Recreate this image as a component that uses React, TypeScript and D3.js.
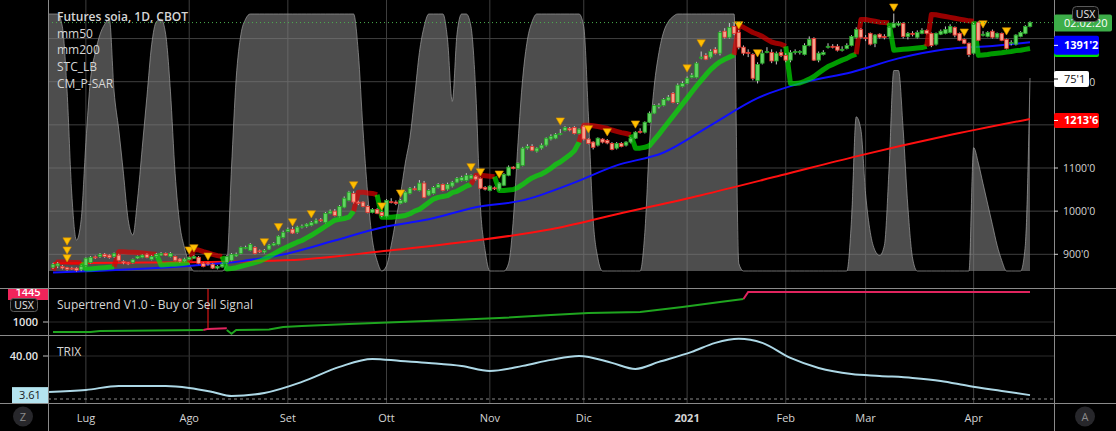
import React from "react";
import * as d3 from "d3";

// ---------------- data ----------------
const MONTH_IDX = [7, 29, 50, 71, 93, 113, 135, 156, 173, 196];
const MONTH_LABELS = ["Lug", "Ago", "Set", "Ott", "Nov", "Dic", "2021", "Feb", "Mar", "Apr"];
const PRICE_TICKS = [900, 1000, 1100, 1200, 1300, 1400];
// tick labels fully covered by the coloured price labels on the axis
const HIDDEN_TICK_LABELS = [1200, 1400];

const OPEN = [
  870,873,872,869,868,868,864,874,881,894, 895,900,898,895,898,883,880,881,891,893,
  900,888,895,898,902,895,895,889,884,888, 891,893,879,880,877,868,871,881,886,896,
  902,914,909,916,908,905,912,921,923,939, 953,958,951,963,965,967,972,980,974,995,
  1000,988,1009,1025,1041,1021,1021,1011,997,1004, 997,988,1022,1021,1018,1021,1041,1052,1048,1065,
  1037,1041,1055,1062,1051,1058,1067,1071,1071,1076, 1081,1076,1055,1048,1054,1051,1060,1083,1102,1099,
  1106,1146,1150,1139,1146,1153,1167,1169,1178,1187, 1192,1194,1180,1197,1167,1160,1153,1167,1164,1157,
  1146,1157,1153,1160,1169,1185,1183,1206,1227,1243, 1245,1257,1273,1252,1289,1296,1310,1310,1355,1361,
  1357,1375,1366,1417,1403,1428,1414,1380,1368,1363, 1303,1343,1368,1368,1348,1368,1361,1350,1368,1368,
  1363,1384,1400,1350,1363,1380,1382,1382,1375,1377, 1384,1403,1421,1402,1412,1389,1410,1405,1405,1426,
  1431,1435,1405,1412,1403,1412,1419,1412,1387,1410, 1412,1414,1426,1412,1398,1389,1366,1438,1408,1405,
  1417,1403,1412,1398,1391,1387,1405,1412,1428,
];
const HIGH = [
  880,882,875,871,871,870,874,893,896,897, 903,903,900,904,901,886,882,890,897,900,
  902,898,903,905,904,905,897,891,892,895, 898,896,881,882,879,875,879,898,903,904,
  918,920,926,919,911,912,924,928,944,955, 962,963,966,969,972,977,983,984,998,1004,
  1005,1014,1034,1047,1046,1024,1023,1014,1007,1007, 1000,1028,1030,1025,1028,1046,1056,1058,1072,1070,
  1051,1058,1065,1064,1066,1070,1079,1082,1088,1085, 1083,1078,1058,1060,1057,1067,1088,1106,1104,1113,
  1149,1155,1155,1148,1157,1171,1178,1181,1190,1197, 1195,1197,1192,1199,1169,1162,1171,1169,1167,1160,
  1160,1160,1162,1171,1185,1192,1208,1231,1248,1250, 1262,1269,1276,1296,1301,1312,1320,1346,1370,1366,
  1375,1380,1418,1424,1436,1438,1420,1384,1375,1366, 1345,1373,1380,1375,1370,1375,1366,1373,1375,1373,
  1389,1405,1403,1370,1373,1389,1387,1387,1382,1389, 1408,1426,1424,1408,1414,1410,1412,1410,1428,1458,
  1440,1438,1415,1417,1419,1424,1421,1414,1414,1421, 1428,1433,1428,1414,1400,1391,1436,1440,1417,1417,
  1421,1414,1414,1400,1396,1410,1417,1431,1440,
];
const LOW = [
  866,868,865,862,864,860,861,872,879,889, 892,892,890,892,884,877,875,879,889,891,
  891,886,893,896,896,893,884,881,882,886, 889,877,870,874,866,865,869,879,884,894,
  900,912,907,900,903,902,910,919,921,937, 951,947,948,960,962,965,970,975,972,993,
  988,986,1007,1023,1018,1014,1009,995,995,993, 986,986,1018,1014,1016,1019,1039,1048,1046,1030,
  1035,1039,1053,1046,1048,1055,1065,1069,1069,1074, 1071,1051,1048,1046,1049,1048,1058,1081,1097,1097,
  1104,1143,1139,1136,1143,1150,1164,1167,1176,1185, 1185,1178,1178,1164,1155,1143,1150,1157,1155,1141,
  1143,1148,1150,1157,1167,1180,1180,1204,1225,1238, 1243,1255,1250,1248,1287,1294,1308,1308,1352,1350,
  1354,1363,1361,1400,1400,1408,1375,1361,1357,1303, 1296,1340,1366,1343,1340,1357,1345,1345,1363,1363,
  1361,1382,1348,1345,1361,1377,1377,1370,1370,1375, 1382,1400,1400,1394,1384,1380,1400,1398,1403,1424,
  1428,1400,1398,1405,1400,1410,1410,1380,1384,1408, 1410,1412,1403,1394,1387,1357,1363,1394,1405,1403,
  1400,1400,1394,1375,1384,1384,1403,1410,1426,
];
const CLOSE = [
  876,878,868,865,867,863,872,891,893,892, 900,895,893,902,886,880,879,888,895,898,
  893,895,900,902,898,902,886,884,889,893, 895,879,872,878,868,872,877,895,900,900,
  916,916,923,902,906,909,921,925,942,951, 958,949,963,965,970,974,979,978,995,1000,
  990,1011,1030,1044,1021,1018,1011,997,1004,995, 990,1025,1021,1018,1025,1044,1053,1050,1065,1032,
  1048,1055,1062,1048,1062,1067,1076,1078,1083,1083, 1074,1053,1051,1058,1052,1065,1085,1102,1099,1111,
  1146,1150,1141,1146,1153,1169,1173,1178,1180,1194, 1188,1180,1190,1167,1157,1148,1169,1160,1158,1143,
  1157,1150,1160,1169,1183,1183,1206,1227,1245,1245, 1259,1264,1252,1292,1296,1308,1315,1343,1357,1352,
  1370,1366,1414,1403,1426,1412,1380,1366,1366,1308, 1340,1366,1370,1348,1366,1361,1350,1368,1370,1370,
  1384,1398,1350,1366,1368,1382,1380,1373,1375,1384, 1405,1421,1403,1400,1387,1408,1403,1403,1426,1435,
  1435,1405,1412,1410,1414,1419,1412,1384,1412,1417, 1421,1428,1408,1396,1389,1363,1433,1396,1410,1414,
  1403,1412,1396,1377,1391,1408,1414,1428,1437,
];

// trailing stop (CM_P-SAR style thick line) and indices where the trend flips
const TRAIL = [
  863,882,882,882,881,881,880,866,866,867, 868,869,870,871,906,906,905,905,904,903,
  902,901,900,875,876,877,877,878,879,881, 911,910,906,903,900,897,895,866,867,869,
  872,875,878,881,884,889,895,901,907,913, 918,923,928,932,938,944,951,958,965,972,
  979,981,983,986,1000,1044,1044,1042,1041,1038, 986,986,986,987,988,990,994,1000,1004,1012,
  1020,1028,1032,1034,1036,1043,1046,1052,1058,1062, 1083,1083,1082,1081,1080,1048,1048,1049,1050,1055,
  1062,1070,1077,1082,1086,1092,1099,1108,1114,1122, 1130,1140,1160,1199,1199,1198,1196,1194,1192,1188,
  1185,1182,1180,1177,1146,1146,1148,1152,1165,1178, 1192,1206,1220,1234,1248,1262,1276,1290,1303,1316,
  1328,1338,1346,1352,1357,1362,1431,1426,1420,1414, 1410,1405,1398,1392,1389,1387,1382,1296,1296,1297,
  1301,1306,1312,1320,1328,1335,1340,1345,1350,1354, 1360,1364,1444,1444,1442,1440,1438,1437,1436,1373,
  1374,1375,1376,1377,1378,1379,1382,1456,1455,1453, 1451,1449,1447,1445,1443,1441,1440,1361,1362,1363,
  1365,1366,1367,1369,1370,1372,1373,1375,1377,
];
const TRAIL_FLIP_IDX = [1, 7, 14, 23, 30, 37, 65, 70, 90, 95, 113, 124, 146, 157, 172, 179, 187, 197];

// STC_LB oscillator (0..100), first value belongs to bar -1
const STC_START = -1;
const STC = [
  100,
  100,100,95,70,30,12,20,50,75,85,
  92,96,98,70,55,38,20,14,28,48,
  68,88,97,98,92,70,38,18,9,3,
  0,0,0,0,0,0,0,3,40,75,
  92,98,100,100,100,100,100,100,100,100,
  100,100,100,100,100,100,100,100,100,100,
  100,100,100,100,100,85,55,30,12,4,
  0,2,10,20,30,42,52,68,85,95,
  100,100,100,100,90,66,92,100,100,95,
  70,25,8,0,0,0,0,3,20,50,
  75,90,97,100,100,100,100,100,100,100,
  100,100,100,95,60,20,5,0,0,0,
  0,0,0,0,0,0,15,50,72,85,
  93,97,99,100,100,100,100,100,100,100,
  100,100,100,100,100,100,3,0,0,0,
  0,0,0,0,0,0,0,0,0,0,
  0,0,0,0,0,0,0,0,0,0,
  20,60,55,30,15,8,6,10,40,78,
  78,55,25,5,0,0,0,0,0,0,
  0,0,0,0,0,0,48,42,34,26,
  18,10,4,0,0,0,0,10,75.1,
];

const MA50_IDX = [0, 10, 20, 30, 40, 50, 60, 70, 80, 90, 100, 110, 120, 130, 140, 150, 160, 170, 180, 190, 200, 208];
const MA50 = [858, 862, 867, 874, 884, 902, 932, 962, 981, 1009, 1025, 1062, 1106, 1136, 1199, 1262, 1299, 1322, 1354, 1375, 1383, 1391.2];
const MA200_IDX = [0, 20, 42, 53, 70, 87, 106, 120, 138, 155, 171, 190, 208];
const MA200 = [879, 881, 884, 888, 907, 928, 958, 993, 1037, 1083, 1127, 1174, 1213.6];

const MARK_IDX = [3, 3, 3, 29, 30, 33, 45, 48, 51, 55, 64, 70, 74, 89, 91, 95, 108, 114, 118, 124, 135, 138, 146, 150, 179, 194, 198, 203];
const MARK_PRICE = [930, 909, 891, 909, 914, 895, 928, 963, 974, 993, 1060, 1011, 1041, 1102, 1090, 1085, 1208, 1190, 1183, 1201, 1331, 1389, 1431, 1366, 1472, 1414, 1433, 1417];

// Supertrend pane
const ST_UP1_I = [0, 8, 10, 32];
const ST_UP1_V = [852, 852, 866, 881];
const ST_DN1_I = [32, 33, 37];
const ST_DN1_V = [881, 898, 906];
const ST_UP2_I = [37, 38, 39, 46, 49, 53, 63, 74, 85, 95, 106, 114, 125, 134, 142, 147];
const ST_UP2_V = [881, 826, 881, 890, 926, 941, 970, 1000, 1030, 1059, 1104, 1134, 1148, 1223, 1297, 1341];
const ST_DN2_I = [147, 148, 208];
const ST_DN2_V = [1341, 1445, 1445];
const ST_SIGNAL_IDX = [33];

// TRIX pane
const TRIX_IDX = [-1, 7, 14, 24, 29, 34, 38, 45, 53, 61, 68, 74, 80, 87, 93, 100, 106, 112, 119, 124, 129, 136, 141, 146, 151, 157, 163, 170, 176, 183, 189, 195, 202, 208];
const TRIX_VAL = [6.5, 8.4, 12.1, 12.1, 10.3, 6.5, 2.8, 5.6, 15.9, 29.9, 37.3, 35.4, 33.6, 30.8, 26.1, 30.8, 36.4, 40.1, 33.6, 28, 34.5, 43.8, 52.2, 56, 52.2, 38.2, 28.9, 23.3, 21.5, 19.6, 16.8, 12.1, 7.5, 3.61];

// ---------------- chart ----------------
const W = 1116, H = 431;
const L = 48, R = 1054;
const MAIN_B = 288, ST_B = 335, TR_B = 403;
const FONT = "'Open Sans', 'DejaVu Sans', sans-serif";

const fmtTick = (v: number) => `${Math.floor(v)}'${Math.round((v - Math.floor(v)) * 10)}`;

export default function App() {
  const N = CLOSE.length;
  const x = d3.scaleLinear().domain([0, N - 1]).range([53, 1030]);
  const y = d3.scaleLinear().domain([900, 1400]).range([254.3, 38.55]);
  const yStc = d3.scaleLinear().domain([0, 100]).range([271, 14]);
  const ySt = d3.scaleLinear().domain([1000, 1445]).range([322, 292]);
  const yTr = d3.scaleLinear().domain([0, 40]).range([399, 356]);

  const stcArea = d3.area<number>()
    .x((_, i) => x(i + STC_START)).y0(yStc(0)).y1((d) => yStc(d))
    .curve(d3.curveMonotoneX)(STC) || "";
  const stcLine = d3.line<number>()
    .x((_, i) => x(i + STC_START)).y((d) => yStc(d))
    .curve(d3.curveMonotoneX)(STC) || "";

  const idxLine = (idx: number[], vals: number[], ys: any, curve: any) =>
    d3.line<number>().x((_, k) => x(idx[k])).y((v) => ys(v)).curve(curve)(vals) || "";

  // trailing runs
  const flips = [0, ...TRAIL_FLIP_IDX, N];
  const runs: { dir: number; d: string }[] = [];
  for (let r = 0; r < flips.length - 1; r++) {
    const s = flips[r], e = flips[r + 1] - 1;
    const pts: [number, number][] = [];
    for (let i = Math.max(0, s - 1); i <= e; i++) pts.push([x(i), y(TRAIL[i])]);
    runs.push({ dir: r % 2 === 0 ? 1 : -1, d: d3.line()(pts) || "" });
  }

  const lastClose = CLOSE[N - 1];
  const lastMa50 = MA50[MA50.length - 1];
  const lastMa200 = MA200[MA200.length - 1];
  const lastStc = STC[STC.length - 1];
  const lastTrail = TRAIL[N - 1];
  const lastTrix = TRIX_VAL[TRIX_VAL.length - 1];

  const gridC = "#3f3f3f";
  const sepC = "#8a8a8a";
  const textC = "#d6d6d6";

  return (
    <div style={{ position: "fixed", left: 0, top: 0, width: W, height: H, background: "#000" }}>
      <svg width={W} height={H} style={{ display: "block", fontFamily: FONT }}>
        <defs>
          <clipPath id="mainClip"><rect x={L} y={0} width={R - L} height={MAIN_B} /></clipPath>
          <clipPath id="stClip"><rect x={0} y={MAIN_B} width={W} height={ST_B - MAIN_B} /></clipPath>
          <clipPath id="trClip"><rect x={L} y={ST_B} width={R - L} height={TR_B - ST_B} /></clipPath>
        </defs>
        <rect x={0} y={0} width={W} height={H} fill="#000" />

        {/* grid */}
        {MONTH_IDX.map((m, k) => (
          <line key={"vg" + k} x1={x(m)} x2={x(m)} y1={0} y2={TR_B} stroke={gridC} strokeWidth={1} />
        ))}
        {PRICE_TICKS.map((p) => (
          <line key={"hg" + p} x1={L} x2={R} y1={y(p)} y2={y(p)} stroke={gridC} strokeWidth={1} />
        ))}
        <line x1={L} x2={R} y1={ySt(1000)} y2={ySt(1000)} stroke="#2c2c2c" />
        <line x1={L} x2={R} y1={yTr(40)} y2={yTr(40)} stroke="#2c2c2c" />

        <g clipPath="url(#mainClip)">
          {/* STC area */}
          <path d={stcArea} fill="#808080" fillOpacity={0.6} />
          <path d={stcLine} fill="none" stroke="#a0a0a0" strokeOpacity={0.7} strokeWidth={1} />

          {/* moving averages */}
          <path d={idxLine(MA200_IDX, MA200, y, d3.curveMonotoneX)} fill="none" stroke="#ff1010" strokeWidth={2} />
          <path d={idxLine(MA50_IDX, MA50, y, d3.curveMonotoneX)} fill="none" stroke="#1010ff" strokeWidth={2} />

          {/* trailing line */}
          {runs.map((r, k) => (
            <path key={"run" + k} d={r.d} fill="none"
              stroke={r.dir > 0 ? "rgb(0,235,0)" : "rgb(225,0,0)"}
              strokeOpacity={r.dir > 0 ? 0.66 : 0.68} strokeWidth={5} strokeLinejoin="round" />
          ))}

          {/* candles */}
          {CLOSE.map((c, i) => {
            const o = OPEN[i];
            const up = c >= o;
            const top = y(Math.max(o, c));
            const bh = Math.max(1, Math.abs(y(o) - y(c)));
            return (
              <g key={"c" + i}>
                <line x1={x(i)} x2={x(i)} y1={y(HIGH[i])} y2={y(LOW[i])} stroke="#c8c8c8" strokeWidth={1} />
                <rect x={x(i) - 1.8} y={top} width={3.6} height={bh}
                  fill={up ? "#62d462" : "#f6a48d"} stroke={up ? "#23a023" : "#e3302a"} strokeWidth={0.8} />
              </g>
            );
          })}

          {/* signal triangles */}
          {MARK_IDX.map((m, k) => {
            const cx = x(m), cy = y(MARK_PRICE[k]);
            return (
              <path key={"mk" + k} d={`M${cx - 4.2},${cy - 3.5}L${cx + 4.2},${cy - 3.5}L${cx},${cy + 3.8}Z`}
                fill="#ffbf00" stroke="#d08a00" strokeWidth={0.6} />
            );
          })}

          {/* current price line */}
          <line x1={L} x2={R} y1={y(lastClose)} y2={y(lastClose)} stroke="#4caf50" strokeWidth={1} strokeDasharray="1 3" />
        </g>

        {/* supertrend pane */}
        <g clipPath="url(#stClip)">
          <path d={idxLine(ST_UP1_I, ST_UP1_V, ySt, d3.curveLinear)} fill="none" stroke="#1fa51f" strokeWidth={2} />
          <path d={idxLine(ST_UP2_I, ST_UP2_V, ySt, d3.curveLinear)} fill="none" stroke="#1fa51f" strokeWidth={2} />
          <path d={idxLine(ST_DN1_I, ST_DN1_V, ySt, d3.curveLinear)} fill="none" stroke="#e0245e" strokeWidth={2} />
          <path d={idxLine(ST_DN2_I, ST_DN2_V, ySt, d3.curveLinear)} fill="none" stroke="#e0245e" strokeWidth={2} />
          {ST_SIGNAL_IDX.map((s) => (
            <line key={"sig" + s} x1={x(s)} x2={x(s)} y1={MAIN_B} y2={ySt(ST_DN1_V[1])} stroke="#ff1a1a" strokeWidth={1} />
          ))}
          <rect x={8} y={ySt(1445) - 7} width={L - 8} height={15} fill="#f0245a" />
          <text x={28} y={ySt(1445) + 3.5} fontSize={11} fill="#fff" textAnchor="middle" fontWeight={600}>1445</text>
          <rect x={10.5} y={298.5} width={27} height={13} rx={3} fill="#0b0b0b" stroke="#5a5a5a" />
          <text x={24} y={309} fontSize={10.5} fill="#e8e8e8" textAnchor="middle">USX</text>
        </g>
        <text x={57} y={309} fontSize={12} fill={textC}>Supertrend V1.0 - Buy or Sell Signal</text>
        <text x={38} y={ySt(1000) + 4} fontSize={11} fill="#e6e6e6" textAnchor="end" fontWeight={600}>1000</text>
        <line x1={43} x2={L} y1={ySt(1000)} y2={ySt(1000)} stroke="#bbb" />

        {/* TRIX pane */}
        <g clipPath="url(#trClip)">
          <line x1={L} x2={R} y1={yTr(0)} y2={yTr(0)} stroke="#8a8a8a" strokeDasharray="3 3" />
          <path d={idxLine(TRIX_IDX, TRIX_VAL, yTr, d3.curveMonotoneX)} fill="none" stroke="#add8e6" strokeWidth={2} />
        </g>
        <text x={57} y={356} fontSize={12} fill={textC}>TRIX</text>
        <text x={38} y={yTr(40) + 4} fontSize={11} fill="#e6e6e6" textAnchor="end" fontWeight={600}>40.00</text>
        <line x1={43} x2={L} y1={yTr(40)} y2={yTr(40)} stroke="#bbb" />
        <rect x={12} y={yTr(lastTrix) - 8} width={L - 12} height={16} fill="#b4e4f0" />
        <text x={30} y={yTr(lastTrix) + 4} fontSize={11} fill="#1a1a1a" textAnchor="middle">{lastTrix.toFixed(2)}</text>

        {/* separators / axis lines */}
        {[MAIN_B, ST_B, TR_B].map((yy) => (
          <line key={"sep" + yy} x1={0} x2={W} y1={yy + 0.5} y2={yy + 0.5} stroke={sepC} strokeWidth={1} />
        ))}
        <line x1={L + 0.5} x2={L + 0.5} y1={0} y2={H} stroke={sepC} />
        <line x1={R + 0.5} x2={R + 0.5} y1={0} y2={H} stroke={sepC} />

        {/* right price axis */}
        {PRICE_TICKS.map((p) => (
          <g key={"pt" + p}>
            <line x1={R} x2={R + 4} y1={y(p)} y2={y(p)} stroke="#cfcfcf" />
            {HIDDEN_TICK_LABELS.indexOf(p) < 0 && (
              <text x={1063} y={y(p) + 4} fontSize={10.5} fill="#d4d4d4">{`${p}'0`}</text>
            )}
          </g>
        ))}
        {/* current price label */}
        <rect x={R} y={y(lastClose) - 8} width={58} height={17} rx={2} fill="#3dae49" />
        <text x={1064} y={y(lastClose) + 4.5} fontSize={11} fill="#fff">02:02:20</text>
        {/* trailing stop label (mostly hidden) */}
        <rect x={R} y={y(lastTrail) - 8.5} width={45} height={17} rx={2} fill="#00e000" />
        {/* mm50 label */}
        <rect x={R} y={y(lastMa50) - 6.5} width={45} height={19} rx={2} fill="#0000ff" />
        <line x1={R} x2={R + 4} y1={y(lastMa50) + 3} y2={y(lastMa50) + 3} stroke="#fff" />
        <text x={1064} y={y(lastMa50) + 7} fontSize={11} fill="#fff" fontWeight={700}>{fmtTick(lastMa50)}</text>
        {/* STC label */}
        <rect x={R} y={yStc(lastStc) - 7} width={35} height={16} rx={2} fill="#ffffff" />
        <line x1={R} x2={R + 4} y1={yStc(lastStc) + 1} y2={yStc(lastStc) + 1} stroke="#000" />
        <text x={1064} y={yStc(lastStc) + 5} fontSize={11} fill="#111">{fmtTick(lastStc)}</text>
        {/* mm200 label */}
        <rect x={R} y={y(lastMa200) - 6} width={45} height={15} rx={2} fill="#ff0000" />
        <line x1={R} x2={R + 4} y1={y(lastMa200) + 1.5} y2={y(lastMa200) + 1.5} stroke="#fff" />
        <text x={1064} y={y(lastMa200) + 5.5} fontSize={11} fill="#fff" fontWeight={700}>{fmtTick(lastMa200)}</text>
        {/* USX badge */}
        <rect x={1072.5} y={6.5} width={26} height={15} rx={4} fill="#0b0b0b" stroke="#5a5a5a" />
        <text x={1085.5} y={18} fontSize={10.5} fill="#e8e8e8" textAnchor="middle">USX</text>

        {/* legend */}
        <text x={57} y={20.5} fontSize={12} fontWeight={600} fill={textC}>Futures soia, 1D, CBOT</text>
        {["mm50", "mm200", "STC_LB", "CM_P-SAR"].map((t, k) => (
          <text key={t} x={57} y={37.5 + k * 16.9} fontSize={12} fill={textC}>{t}</text>
        ))}

        {/* x axis */}
        {MONTH_IDX.map((m, k) => (
          <text key={"xl" + k} x={x(m)} y={421.5} fontSize={11} fill="#d4d4d4" textAnchor="middle"
            fontWeight={MONTH_LABELS[k] === "2021" ? 700 : 400}>{MONTH_LABELS[k]}</text>
        ))}
        <circle cx={23} cy={416.5} r={10} fill="#27272b" />
        <text x={23} y={420.5} fontSize={11} fill="#8a8a8a" textAnchor="middle">Z</text>
        <circle cx={1085} cy={416.5} r={10} fill="#27272b" />
        <text x={1085} y={420.5} fontSize={11} fill="#8a8a8a" textAnchor="middle">A</text>
      </svg>
    </div>
  );
}
